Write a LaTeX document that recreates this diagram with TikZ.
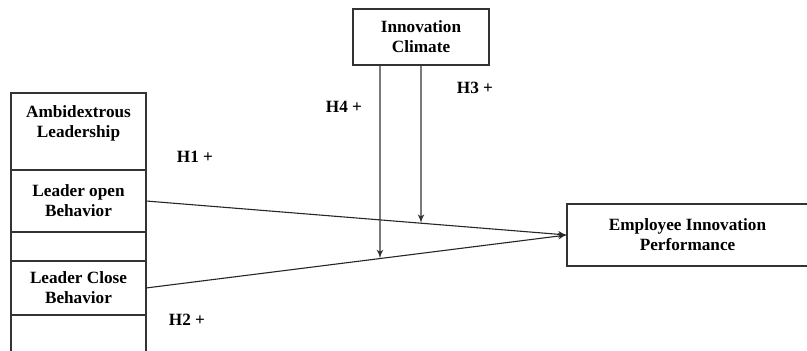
\documentclass[tikz,border=0pt]{standalone}
\usepackage{fontspec}
\setmainfont{Liberation Serif}
\usetikzlibrary{arrows, positioning}

\begin{document}
\begin{tikzpicture}
    [
        x=0.5pt, y=-0.5pt,
        font=\fontsize{8.6}{10}\selectfont\bfseries,
        node distance=0pt,
        cell/.style  ={rectangle, draw=black!80, line width=0.55pt, outer sep=0pt,
                       minimum width=67.5pt, align=center, inner sep=0pt},
        cbox/.style  ={rectangle, draw=black!80, line width=0.55pt, outer sep=0pt,
                       align=center, inner sep=0pt},
        hyp/.style   ={inner sep=0pt},
        oarc/.style  ={->,>=latex',line width=0.55pt, black!85},
        marc/.style  ={->,>=latex',line width=0.55pt, black!80}
    ]

    \useasboundingbox (0,0) rectangle (807,351);

    % left stack
    \node[cell, minimum height=38.5pt]  (ambbox) at (78.5,131.5) {};
    \node[cell, minimum height=31pt]    (open)  [below=of ambbox] {Leader open\\Behavior};
    \node[cell, minimum height=14.5pt]  (gap)   [below=of open]   {};
    \node[cell, minimum height=27pt]    (close) [below=of gap]    {Leader Close\\Behavior};
    \node[align=center, inner sep=0pt]  (amb)   at (78.5,123)     {Ambidextrous\\Leadership};
    \draw[black!80, line width=0.55pt] (close.south west) -- ++(0,40);
    \draw[black!80, line width=0.55pt] (close.south east) -- ++(0,40);

    % moderator and outcome
    \node[cbox, minimum width=68pt, minimum height=28pt]    (clim) at (421,37)    {Innovation\\Climate};
    \node[cbox, minimum width=120.5pt, minimum height=31pt] (eip)  at (687.5,235) {Employee Innovation\\Performance};

    \node[hyp]  (h1) at (195,157) {H1 +};
    \node[hyp]  (h2) at (187,320) {H2 +};
    \node[hyp]  (h3) at (475,88)  {H3 +};
    \node[hyp]  (h4) at (344,107) {H4 +};

    \draw[oarc]     (open.east) to (eip.west);
    \draw[oarc]     (close.east) to (eip.west);

    \coordinate (h4top) at (clim.south -| 380,0);
    \coordinate (h3top) at (clim.south);
    \coordinate (h4end) at (intersection of close.east--eip.west and h4top--380,300);
    \coordinate (h3end) at (intersection of open.east--eip.west and h3top--421,300);

    \draw[marc]     (h4top) to (h4end);
    \draw[marc]     (h3top) to (h3end);

\end{tikzpicture}
\end{document}
